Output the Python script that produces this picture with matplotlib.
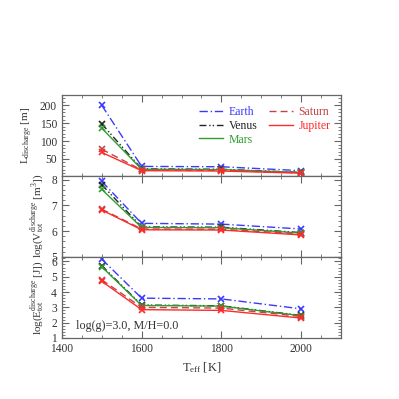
import matplotlib
matplotlib.use("Agg")
import matplotlib.pyplot as plt
import matplotlib.lines as mlines
from matplotlib.ticker import MultipleLocator

plt.rcParams['font.family'] = ['Liberation Serif', 'DejaVu Serif']
plt.rcParams['mathtext.fontset'] = 'custom'
plt.rcParams['mathtext.rm'] = 'Liberation Serif'
plt.rcParams['mathtext.it'] = 'Liberation Serif:italic'

teff = [1500, 1600, 1800, 2000]
planets = ['Earth', 'Venus', 'Mars', 'Saturn', 'Jupiter']
colors = ['#3a3aff', '#222222', '#2e9e2e', '#c04545', '#ff2a2a']
styles = [(0, (6, 2, 1, 2)), (0, (5, 2, 1, 1.5, 1, 2)), '-', (0, (5, 3)), '-']

L_discharge = {
    'Earth':   [200, 29, 28, 17],
    'Venus':   [148, 22, 21, 12],
    'Mars':    [136, 21, 20, 12],
    'Saturn':  [77, 19, 18, 11],
    'Jupiter': [68, 17, 16, 10],
}
logV = {
    'Earth':   [7.93, 6.30, 6.27, 6.08],
    'Venus':   [7.80, 6.16, 6.15, 5.94],
    'Mars':    [7.62, 6.14, 6.13, 5.92],
    'Saturn':  [6.85, 6.08, 6.07, 5.89],
    'Jupiter': [6.82, 6.05, 6.04, 5.85],
}
logE = {
    'Earth':   [6.15, 3.60, 3.55, 2.90],
    'Venus':   [5.72, 3.15, 3.10, 2.47],
    'Mars':    [5.65, 3.12, 3.08, 2.45],
    'Saturn':  [4.80, 3.00, 2.95, 2.40],
    'Jupiter': [4.70, 2.85, 2.80, 2.30],
}

fig = plt.figure(figsize=(3.99, 3.99), dpi=100)
L, R, T, B = 0.155, 0.855, 0.763, 0.153
h = (T - B) / 3
axes = [fig.add_axes([L, T - (i + 1) * h, R - L, h]) for i in range(3)]

datasets = [L_discharge, logV, logE]
ylims = [(3, 230), (5, 8.15), (1, 6.3)]
ymaj = [50, 1, 1]
ymin = [10, 0.2, 0.2]
ylabels = [r'L$_{\rm discharge}$ [m]',
           r'log(V$_{\rm tot}^{\rm discharge}$ [m$^3$])',
           r'log(E$_{\rm tot}^{\rm discharge}$ [J])']
spine_c = '#666666'

for ax, data, yl, mj, mn, lab in zip(axes, datasets, ylims, ymaj, ymin, ylabels):
    for p, c, s in zip(planets, colors, styles):
        ax.plot(teff, data[p], color=c, linestyle=s, lw=1.0, marker='x',
                markersize=5, markeredgewidth=1.2, label=p)
    ax.set_xlim(1400, 2100)
    ax.set_ylim(*yl)
    ax.xaxis.set_major_locator(MultipleLocator(200))
    ax.xaxis.set_minor_locator(MultipleLocator(50))
    ax.yaxis.set_major_locator(MultipleLocator(mj))
    ax.yaxis.set_minor_locator(MultipleLocator(mn))
    ax.tick_params(which='both', direction='in', top=True, right=True,
                   colors=spine_c, labelcolor='#333333', labelsize=8.3)
    ax.tick_params(which='major', length=5, width=0.8)
    ax.tick_params(which='minor', length=2.5, width=0.6)
    for sp in ax.spines.values():
        sp.set_color(spine_c)
        sp.set_linewidth(0.9)
    ax.set_ylabel(lab, fontsize=8, color='#333333', labelpad=3)

for ax in axes[:2]:
    ax.tick_params(labelbottom=False)

axes[2].set_xlabel(r'T$_{\rm eff}$ [K]', fontsize=9, color='#333333')
axes[2].text(1435, 1.75, 'log(g)=3.0, M/H=0.0', fontsize=8.7,
             color='#333333', va='center', ha='left')

hl = [mlines.Line2D([], [], color=c, linestyle=s, lw=1.0)
      for c, s in zip(colors, styles)]
leg = axes[0].legend(hl, planets, ncol=2, loc='upper right', frameon=False,
                     fontsize=8.5, handlelength=2.0, handletextpad=0.5,
                     columnspacing=1.0, labelspacing=0.15,
                     bbox_to_anchor=(1.0, 0.99))
for t, c in zip(leg.get_texts(), colors):
    t.set_color(c)

fig.savefig('out.png', dpi=100)
